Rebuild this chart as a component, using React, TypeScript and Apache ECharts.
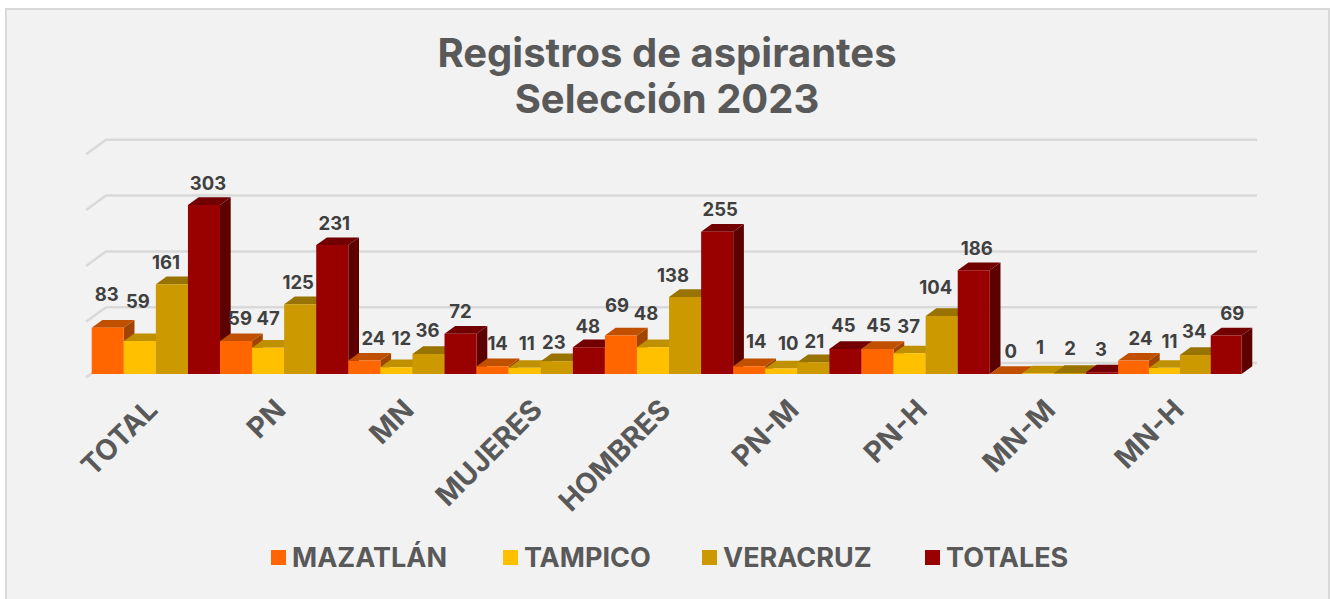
import React, { useEffect, useRef } from "react";
import * as echarts from "echarts";

const FONT = "Inter";
const INK = "#595959";

const categories = ["TOTAL", "PN", "MN", "MUJERES", "HOMBRES", "PN-M", "PN-H", "MN-M", "MN-H"];
const mazatlan = [83, 59, 24, 14, 69, 14, 45, 0, 24];
const tampico = [59, 47, 12, 11, 48, 10, 37, 1, 11];
const veracruz = [161, 125, 36, 23, 138, 21, 104, 2, 34];
const totales = [303, 231, 72, 48, 255, 45, 186, 3, 69];
const axisTicks = [0, 100, 200, 300, 400];

// Hand-placed label centres of the original, as offsets from each bar's top centre.
const nudgeMazatlan = [[-1,-34],[4,-23],[9,-23],[5,-23],[-4,-30],[7,-25],[1,-24],[5,-23],[7,-23]];
const nudgeTampico = [[-2,-40],[0,-30],[5,-29],[2,-25],[-7,-34],[7,-25],[-1,-27],[2,-26],[5,-27]];
const nudgeVeracruz = [[-6,-22],[-2,-22],[-1,-24],[-3,-19],[-12,-22],[1,-21],[-6,-29],[0,-25],[-1,-24]];
const nudgeTotales = [[4,-22],[2,-22],[0,-23],[-1,-21],[3,-23],[-2,-24],[3,-22],[-1,-23],[6,-22]];

// The last cluster of the original is slightly narrower than the others.
const clusterScale = [1, 1, 1, 1, 1, 1, 1, 1, 0.9625];

const DX = 10.7;
const DY = 7.7;

function barGeometry(api: any, index: number) {
  const cat = api.value(0);
  const val = api.value(1);
  const base = api.coord([cat, 0]);
  const head = api.coord([cat, val]);
  const band = api.size([1, 0])[0];
  const w = (band / 4) * clusterScale[cat];
  const x0 = base[0] - band / 2 + w * index;
  return { cat, val, x0, x1: x0 + w, y0: base[1], y1: head[1], w };
}

function barSeries(name: string, values: number[], index: number, front: string, top: string, side: string) {
  return {
    type: "custom",
    name,
    coordinateSystem: "cartesian2d",
    itemStyle: { color: front },
    encode: { x: 0, y: 1 },
    data: values.map((v, i) => [i, v]),
    silent: true,
    clip: false,
    z: 2,
    renderItem: (_p: any, api: any) => {
      const { cat, x0, x1, y0, y1, w } = barGeometry(api, index);
      const order = cat * 10 + index;
      return {
        type: "group",
        children: [
          { type: "polygon", z2: order, shape: { points: [[x1, y1], [x1 + DX, y1 - DY], [x1 + DX, y0 - DY], [x1, y0]] }, style: { fill: side } },
          { type: "polygon", z2: order, shape: { points: [[x0, y1], [x1, y1], [x1 + DX, y1 - DY], [x0 + DX, y1 - DY]] }, style: { fill: top } },
          { type: "rect", z2: order + 1, shape: { x: x0, y: y1, width: w, height: y0 - y1 }, style: { fill: front } },
        ],
      };
    },
  };
}

function labelSeries(values: number[], nudges: number[][], index: number) {
  return {
    type: "custom",
    coordinateSystem: "cartesian2d",
    encode: { x: 0, y: 1 },
    data: values.map((v, i) => [i, v]),
    silent: true,
    clip: false,
    z: 5,
    renderItem: (_p: any, api: any) => {
      const { cat, val, x0, y1, w } = barGeometry(api, index);
      const n = nudges[cat];
      return {
        type: "text",
        x: x0 + w / 2 + n[0],
        y: y1 + n[1],
        style: {
          text: String(val),
          fill: "#404040",
          font: `bold 18.5px "${FONT}"`,
          textAlign: "center",
          textVerticalAlign: "middle",
        },
      };
    },
  };
}

const wallSeries = {
  type: "custom",
  coordinateSystem: "cartesian2d",
  encode: { y: 0 },
  data: axisTicks.map((t) => [t]),
  silent: true,
  clip: false,
  z: 1,
  renderItem: (params: any, api: any) => {
    const y = api.coord([0, api.value(0)])[1];
    const cs = params.coordSys;
    const stroke = { stroke: "#d9d9d9", lineWidth: 2.5, fill: "none" };
    return {
      type: "group",
      children: [
        { type: "line", shape: { x1: cs.x - 5.7, y1: y + 3.5, x2: cs.x + 14.3, y2: y - 11 }, style: stroke },
        { type: "line", shape: { x1: cs.x + 14.3, y1: y - 11, x2: cs.x + cs.width + 10.6, y2: y - 11 }, style: stroke },
      ],
    };
  },
};

function legendAt(name: string, left: number) {
  return {
    data: [name],
    left,
    top: 544,
    padding: 0,
    icon: "rect",
    itemWidth: 15,
    itemHeight: 15,
    selectedMode: false,
    textStyle: { color: INK, fontFamily: FONT, fontWeight: "bold", fontSize: 27, padding: [0, 0, 0, 1] },
  };
}

export default function App() {
  const ref = useRef<HTMLDivElement>(null);
  useEffect(() => {
    document.body.style.margin = "0";
    const chart = echarts.init(ref.current!, null, { renderer: "svg" });
    chart.setOption({
      animation: false,
      backgroundColor: "#ffffff",
      graphic: {
        elements: [
          { type: "rect", z: -100, shape: { x: 6, y: 9, width: 1323, height: 620 }, style: { fill: "#f2f2f2", stroke: "#d9d9d9", lineWidth: 2 } },
        ],
      },
      title: {
        text: "Registros de aspirantes\nSelección 2023",
        left: 662,
        top: 24,
        textAlign: "center",
        textStyle: { color: INK, fontFamily: FONT, fontWeight: "bold", fontSize: 40, lineHeight: 46 },
      },
      legend: [legendAt("MAZATLÁN", 271), legendAt("TAMPICO", 503), legendAt("VERACRUZ", 702), legendAt("TOTALES", 925)],
      grid: { left: 91.7, top: 150.8, width: 1154.7, height: 223.2 },
      xAxis: {
        type: "category",
        data: categories,
        axisLine: { show: false },
        axisTick: { show: false },
        axisLabel: { rotate: 45, margin: 26, padding: [0, 6, 0, 0], interval: 0, color: INK, fontFamily: FONT, fontWeight: "bold", fontSize: 28.5 },
      },
      yAxis: {
        type: "value",
        min: 0,
        max: 400,
        interval: 100,
        axisLabel: { show: false },
        axisLine: { show: false },
        axisTick: { show: false },
        splitLine: { show: false },
      },
      series: [
        wallSeries,
        barSeries("MAZATLÁN", mazatlan, 0, "#ff6600", "#c05000", "#a04400"),
        barSeries("TAMPICO", tampico, 1, "#ffc000", "#bf9000", "#a07800"),
        barSeries("VERACRUZ", veracruz, 2, "#cc9900", "#997300", "#806000"),
        barSeries("TOTALES", totales, 3, "#990000", "#730000", "#5c0000"),
        labelSeries(mazatlan, nudgeMazatlan, 0),
        labelSeries(tampico, nudgeTampico, 1),
        labelSeries(veracruz, nudgeVeracruz, 2),
        labelSeries(totales, nudgeTotales, 3),
      ],
    });
    return () => chart.dispose();
  }, []);
  return <div ref={ref} style={{ width: 1330, height: 599 }} />;
}
